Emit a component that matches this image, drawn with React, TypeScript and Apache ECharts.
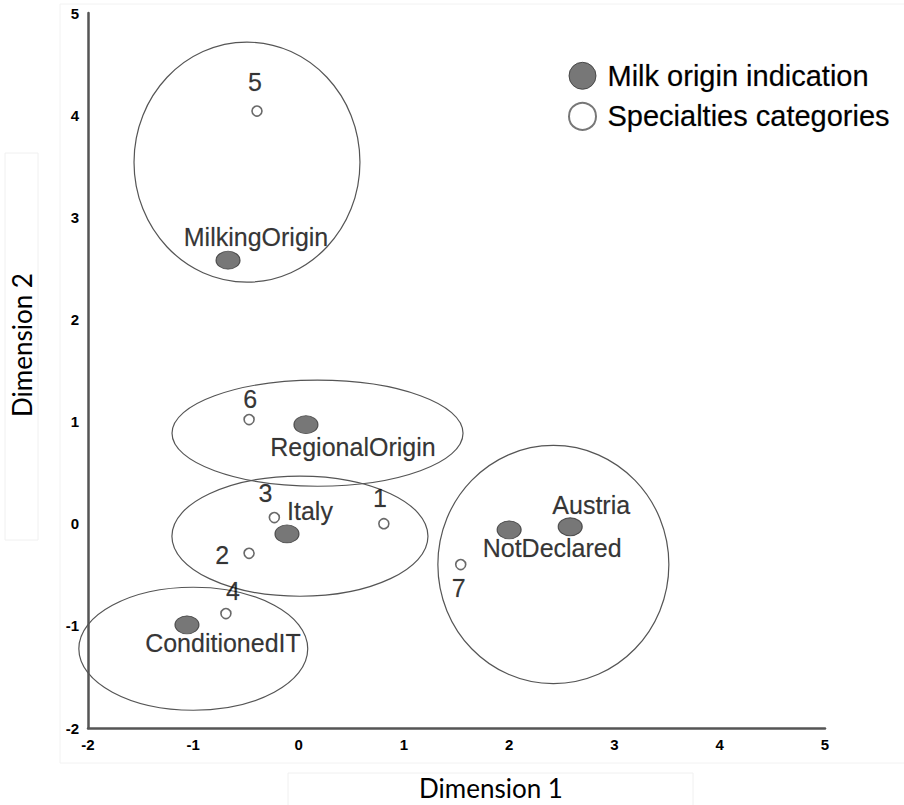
import React, { useEffect, useRef } from "react";
import * as echarts from "echarts";

// Milk origin indication (filled markers)
const originNames = ["MilkingOrigin", "RegionalOrigin", "Italy", "NotDeclared", "Austria", "ConditionedIT"];
const originDim1 = [-0.67, 0.07, -0.11, 2.0, 2.58, -1.06];
const originDim2 = [2.58, 0.97, -0.1, -0.06, -0.03, -0.99];

// Specialties categories (open markers)
const specNames = ["1", "2", "3", "4", "5", "6", "7"];
const specDim1 = [0.81, -0.47, -0.23, -0.69, -0.395, -0.47, 1.54];
const specDim2 = [0.0, -0.29, 0.06, -0.88, 4.04, 1.02, -0.4];

// Cluster ellipses (centre and radii in data units)
const ellipseCx = [-0.49, 0.18, 0.013, -1.0, 2.42];
const ellipseCy = [3.54, 0.886, -0.122, -1.224, -0.4];
const ellipseRx = [1.073, 1.382, 1.216, 1.087, 1.097];
const ellipseRy = [1.175, 0.519, 0.588, 0.602, 1.166];

const axisTicks = [-2, -1, 0, 1, 2, 3, 4, 5];
const legendNames = ["Milk origin indication", "Specialties categories"];

// label offsets in pixels (layout, kept apart from data)
const originLabelOffsets: Record<string, [number, number]> = {
  MilkingOrigin: [28, -23],
  RegionalOrigin: [47, 22],
  Italy: [23, -23],
  NotDeclared: [43, 18],
  Austria: [21, -22],
  ConditionedIT: [36, 18],
};
const specLabelOffsets: Record<string, [number, number]> = {
  "1": [-4, -26],
  "2": [-27, 2],
  "3": [-9, -25],
  "4": [7, -23],
  "5": [-2, -29],
  "6": [1, -21],
  "7": [-2, 23],
};

const ELLIPSE = "path://M0,5 A5,5 0 1,1 10,5 A5,5 0 1,1 0,5 Z";
const FONT = "'Liberation Sans', Arial, sans-serif";

export default function App() {
  const ref = useRef<HTMLDivElement>(null);
  useEffect(() => {
    if (!ref.current) return;
    const chart = echarts.init(ref.current, undefined, { renderer: "svg" });
    const axisCommon = {
      type: "value" as const,
      min: axisTicks[0],
      max: axisTicks[axisTicks.length - 1],
      interval: 1,
      axisLine: { show: true, onZero: false, lineStyle: { color: "#555", width: 2.5 } },
      axisTick: { show: false },
      splitLine: { show: false },
      axisLabel: { color: "#000", fontWeight: "bold" as const, fontSize: 15, fontFamily: FONT },
    };
    const labelCommon = {
      show: true,
      position: "inside" as const,
      formatter: "{b}",
      fontSize: 25,
      fontFamily: FONT,
      color: "#000",
      align: "center" as const,
      verticalAlign: "middle" as const,
      textBorderColor: "rgba(0,0,0,0.35)",
      textBorderWidth: 0.6,
    };
    chart.setOption({
      animation: false,
      backgroundColor: "#fff",
      grid: { left: 88, top: 13, right: 79, bottom: 77, containLabel: false },
      xAxis: { ...axisCommon, axisLabel: { ...axisCommon.axisLabel, margin: 9 } },
      yAxis: { ...axisCommon, axisLabel: { ...axisCommon.axisLabel, margin: 9 } },
      legend: {
        orient: "vertical",
        left: 563,
        top: 56,
        itemWidth: 30,
        itemHeight: 27,
        itemGap: 11,
        selectedMode: false,
        textStyle: {
          fontSize: 29,
          fontFamily: FONT,
          color: "#000",
          lineHeight: 27,
          padding: [0, 0, 0, 5],
          textBorderColor: "rgba(0,0,0,0.35)",
          textBorderWidth: 0.6,
        },
        data: [
          { name: legendNames[0], icon: ELLIPSE, itemStyle: { color: "#555", borderColor: "#333", borderWidth: 1 } },
          { name: legendNames[1], icon: "circle", itemStyle: { color: "#fff", borderColor: "#555", borderWidth: 2 } },
        ],
      },
      graphic: [
        { type: "rect", silent: true, z: -10, shape: { x: 60, y: 4, width: 900, height: 759 }, style: { fill: "none", stroke: "#f2f2f2", lineWidth: 1 } },
        { type: "rect", silent: true, z: -10, shape: { x: 5, y: 153, width: 33, height: 387 }, style: { fill: "none", stroke: "#f0f0f0", lineWidth: 1 } },
        { type: "rect", silent: true, z: -10, shape: { x: 288, y: 773, width: 405, height: 40 }, style: { fill: "none", stroke: "#f0f0f0", lineWidth: 1 } },
        {
          type: "text",
          x: 491,
          y: 788,
          style: { text: "Dimension 1", fontSize: 26, fontFamily: "Lato, 'Open Sans', sans-serif", fill: "#000", align: "center", verticalAlign: "middle" },
        },
        {
          type: "text",
          x: 22,
          y: 345,
          rotation: Math.PI / 2,
          style: { text: "Dimension 2", fontSize: 26, fontFamily: "Lato, 'Open Sans', sans-serif", fill: "#000", align: "center", verticalAlign: "middle" },
        },
      ],
      series: [
        {
          type: "custom",
          name: "clusters",
          z: 1,
          silent: true,
          clip: false,
          encode: { x: 0, y: 1 },
          data: ellipseCx.map((cx, i) => [cx, ellipseCy[i], ellipseRx[i], ellipseRy[i]]),
          renderItem: (params: any, api: any) => {
            const c = api.coord([api.value(0), api.value(1)]);
            const s = api.size([api.value(2), api.value(3)]);
            return {
              type: "ellipse",
              shape: { cx: c[0], cy: c[1], rx: s[0], ry: s[1] },
              style: { fill: "none", stroke: "#555", lineWidth: 1.2 },
            };
          },
        },
        {
          type: "scatter",
          name: legendNames[1],
          z: 3,
          symbol: "circle",
          symbolSize: 10,
          itemStyle: { color: "#fff", borderColor: "#444", borderWidth: 1.6 },
          label: labelCommon,
          data: specNames.map((n, i) => ({
            name: n,
            value: [specDim1[i], specDim2[i]],
            label: { offset: specLabelOffsets[n] },
          })),
        },
        {
          type: "scatter",
          name: legendNames[0],
          z: 4,
          symbol: ELLIPSE,
          symbolSize: [24, 18],
          itemStyle: { color: "#555", borderColor: "#333", borderWidth: 1 },
          label: labelCommon,
          data: originNames.map((n, i) => ({
            name: n,
            value: [originDim1[i], originDim2[i]],
            label: { offset: originLabelOffsets[n] },
          })),
        },
      ],
    });
    return () => chart.dispose();
  }, []);
  return (
    <div
      ref={ref}
      style={{ position: "fixed", left: 0, top: 0, width: 904, height: 805, background: "#fff" }}
    />
  );
}
